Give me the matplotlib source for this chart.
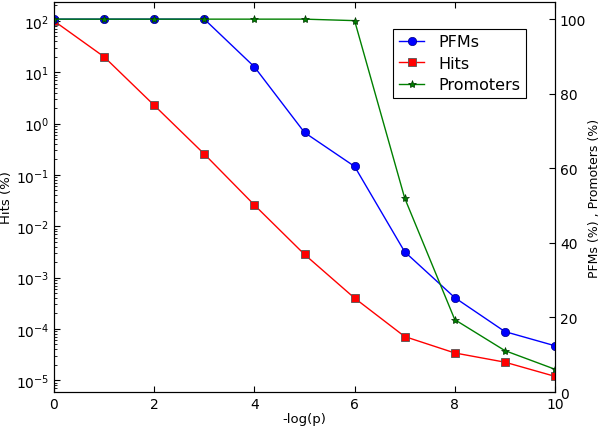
import matplotlib
matplotlib.use('Agg')
import matplotlib.pyplot as plt

# data
x = [0, 1, 2, 3, 4, 5, 6, 7, 8, 9, 10]
hits = [100, 20, 2.27, 0.255, 0.0259, 0.00283, 0.000398, 7.1e-5, 3.4e-5, 2.25e-5, 1.19e-5]
pfms = [100, 100, 100, 100, 87.2, 69.6, 60.5, 37.6, 25.3, 16.2, 12.4]
promoters = [100, 100, 100, 100, 100, 100, 99.6, 52.0, 19.4, 11.1, 6.1]

plt.rcParams['xtick.direction'] = 'in'
plt.rcParams['ytick.direction'] = 'in'
plt.rcParams['xtick.top'] = True
plt.rcParams['font.size'] = 10

fig = plt.figure(figsize=(6, 4.27), dpi=100)
ax1 = fig.add_axes([0.09, 0.0796, 0.835, 0.9134])
ax2 = ax1.twinx()

l_hits, = ax1.plot(x, hits, color='r', marker='s', markersize=5.5,
                   markeredgecolor='#555555', markeredgewidth=0.6, linewidth=1)
ax1.set_yscale('log')
ax1.set_ylim(5.9e-6, 234)
ax1.set_xlim(0, 10)
ax1.set_ylabel('Hits (%)', fontsize=9.5, labelpad=2)
ax1.set_xlabel('-log(p)', fontsize=9.5, labelpad=1)

l_pfms, = ax2.plot(x, pfms, color='b', marker='o', markersize=6,
                   markeredgecolor='#000080', markeredgewidth=0.5, linewidth=1)
l_prom, = ax2.plot(x, promoters, color='g', marker='*', markersize=6,
                   markeredgecolor='#003300', markeredgewidth=0.5, linewidth=1)
ax2.set_ylim(0, 104.6)
ax2.set_ylabel('PFMs (%) , Promoters (%)', fontsize=9, labelpad=1)

for ax in (ax1, ax2):
    ax.tick_params(which='major', length=4, labelsize=10)
    ax.tick_params(which='minor', length=2)
ax1.tick_params(axis='y', which='both', right=False)

leg = ax2.legend([l_pfms, l_hits, l_prom], ['PFMs', 'Hits', 'Promoters'],
                 loc='upper left', bbox_to_anchor=(0.677, 0.931), borderaxespad=0,
                 fancybox=False, framealpha=1, edgecolor='black', fontsize=11.5,
                 handlelength=1.6, handletextpad=0.9, borderpad=0.35,
                 labelspacing=0.4)
leg.get_frame().set_linewidth(0.8)

fig.savefig('out.png', dpi=100)
